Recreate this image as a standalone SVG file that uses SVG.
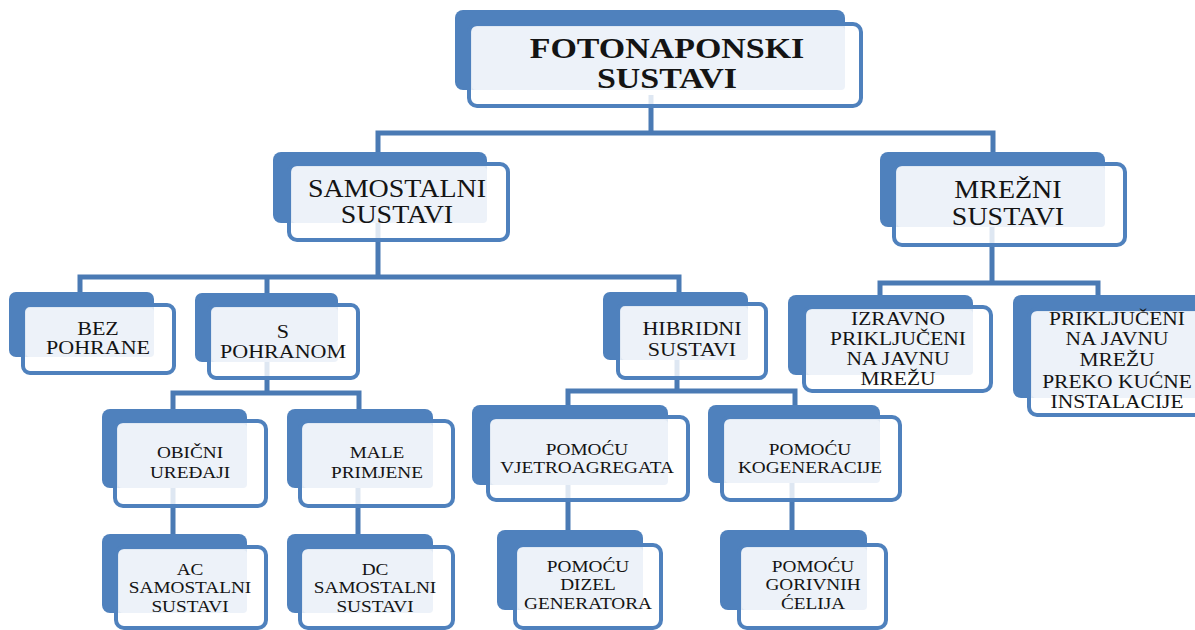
<svg xmlns="http://www.w3.org/2000/svg" width="1195" height="630" viewBox="0 0 1195 630">
<style>
.bk{fill:#4f81bd}
.fr{fill:#ffffff;fill-opacity:0.82;stroke:#4f81bd;stroke-width:4}
.lt{fill:#edf2f9}
.t{font-family:"Liberation Serif","Times New Roman",serif;fill:#141414;text-anchor:middle}
.s31{font-size:29px;font-weight:bold}
.s25{font-size:25px}
.s20{font-size:19px}
.s19{font-size:19px}
.s17{font-size:17.5px}
.con{fill:none;stroke:#4a7ab4;stroke-width:5}
</style>
<rect width="1195" height="630" fill="#ffffff"/>
<g id="connectors">
<path class="con" d="M378 152 V133 H993 V152 M651 95 V133"/>
<path class="con" d="M80 292 V277 H679 V292 M267 277 V293 M378 220 V277"/>
<path class="con" d="M880 295 V283 H1098 V295 M992 220 V283"/>
<path class="con" d="M173 409 V393 H359 V409 M267 355 V393"/>
<path class="con" d="M568 405 V391 H795 V405 M677 355 V391"/>
<path class="con" d="M173 480 V534 M358 480 V534 M568 480 V530 M792 480 V530"/>
</g>
<g id="n_top">
<rect class="bk" x="455" y="10" width="390" height="80" rx="8"/>
<rect class="fr" x="469" y="24" width="392" height="82" rx="8"/>
<rect class="lt" x="472" y="27" width="373" height="63" rx="4"/>
<text class="t s31" transform="translate(667 0) scale(1.17 1)"><tspan x="0" y="58">FOTONAPONSKI</tspan><tspan x="0" y="88">SUSTAVI</tspan></text>
</g>
<g id="n_samostalni">
<rect class="bk" x="273" y="152" width="214" height="71" rx="8"/>
<rect class="fr" x="289" y="164" width="219" height="76" rx="8"/>
<rect class="lt" x="292" y="167" width="195" height="56" rx="4"/>
<text class="t s25" transform="translate(397 0) scale(1.12 1)"><tspan x="0" y="197">SAMOSTALNI</tspan><tspan x="0" y="223">SUSTAVI</tspan></text>
</g>
<g id="n_mrezni">
<rect class="bk" x="880" y="152" width="225" height="75" rx="8"/>
<rect class="fr" x="894" y="164" width="231" height="81" rx="8"/>
<rect class="lt" x="897" y="167" width="208" height="60" rx="4"/>
<text class="t s25" transform="translate(1008 0) scale(1.12 1)"><tspan x="0" y="198">MREŽNI</tspan><tspan x="0" y="225">SUSTAVI</tspan></text>
</g>
<g id="n_bez">
<rect class="bk" x="9" y="292" width="145" height="65" rx="7"/>
<rect class="fr" x="23" y="305" width="151" height="68" rx="7"/>
<rect class="lt" x="26" y="308" width="128" height="49" rx="4"/>
<text class="t s20" transform="translate(98 0) scale(1.16 1)"><tspan x="0" y="335">BEZ</tspan><tspan x="0" y="354">POHRANE</tspan></text>
</g>
<g id="n_spohranom">
<rect class="bk" x="195" y="293" width="143" height="69" rx="7"/>
<rect class="fr" x="209" y="305" width="149" height="73" rx="7"/>
<rect class="lt" x="212" y="308" width="126" height="54" rx="4"/>
<text class="t s20" transform="translate(283 0) scale(1.16 1)"><tspan x="0" y="338">S</tspan><tspan x="0" y="358">POHRANOM</tspan></text>
</g>
<g id="n_hibridni">
<rect class="bk" x="603" y="292" width="145" height="68" rx="7"/>
<rect class="fr" x="618" y="304" width="148" height="74" rx="7"/>
<rect class="lt" x="621" y="307" width="127" height="53" rx="4"/>
<text class="t s20" transform="translate(692 0) scale(1.16 1)"><tspan x="0" y="335">HIBRIDNI</tspan><tspan x="0" y="356">SUSTAVI</tspan></text>
</g>
<g id="n_izravno">
<rect class="bk" x="788" y="295" width="185" height="80" rx="8"/>
<rect class="fr" x="804" y="307" width="187" height="84" rx="8"/>
<rect class="lt" x="807" y="310" width="166" height="65" rx="4"/>
<text class="t s19" transform="translate(898 0) scale(1.13 1)"><tspan x="0" y="325">IZRAVNO</tspan><tspan x="0" y="345">PRIKLJUČENI</tspan><tspan x="0" y="365">NA JAVNU</tspan><tspan x="0" y="385">MREŽU</tspan></text>
</g>
<g id="n_kucna">
<rect class="bk" x="1013" y="295" width="190" height="103" rx="8"/>
<rect class="fr" x="1029" y="309" width="190" height="106" rx="8"/>
<rect class="lt" x="1032" y="312" width="171" height="86" rx="4"/>
<text class="t s19" transform="translate(1117 0) scale(1.13 1)"><tspan x="0" y="325">PRIKLJUČENI</tspan><tspan x="0" y="345">NA JAVNU</tspan><tspan x="0" y="366">MREŽU</tspan><tspan x="0" y="388">PREKO KUĆNE</tspan><tspan x="0" y="408">INSTALACIJE</tspan></text>
</g>
<g id="n_obicni">
<rect class="bk" x="102" y="409" width="145" height="79" rx="8"/>
<rect class="fr" x="115" y="421" width="151" height="85" rx="8"/>
<rect class="lt" x="118" y="424" width="129" height="64" rx="4"/>
<text class="t s17" transform="translate(190 0) scale(1.1 1)"><tspan x="0" y="458">OBIČNI</tspan><tspan x="0" y="478">UREĐAJI</tspan></text>
</g>
<g id="n_male">
<rect class="bk" x="287" y="409" width="146" height="79" rx="8"/>
<rect class="fr" x="300" y="421" width="153" height="85" rx="8"/>
<rect class="lt" x="303" y="424" width="130" height="64" rx="4"/>
<text class="t s17" transform="translate(377 0) scale(1.1 1)"><tspan x="0" y="458">MALE</tspan><tspan x="0" y="478">PRIMJENE</tspan></text>
</g>
<g id="n_ac">
<rect class="bk" x="102" y="534" width="145" height="79" rx="8"/>
<rect class="fr" x="116" y="547" width="150" height="81" rx="8"/>
<rect class="lt" x="119" y="550" width="128" height="63" rx="4"/>
<text class="t s17" transform="translate(190 0) scale(1.1 1)"><tspan x="0" y="575">AC</tspan><tspan x="0" y="593">SAMOSTALNI</tspan><tspan x="0" y="612">SUSTAVI</tspan></text>
</g>
<g id="n_dc">
<rect class="bk" x="287" y="534" width="146" height="79" rx="8"/>
<rect class="fr" x="300" y="547" width="153" height="81" rx="8"/>
<rect class="lt" x="303" y="550" width="130" height="63" rx="4"/>
<text class="t s17" transform="translate(375 0) scale(1.1 1)"><tspan x="0" y="575">DC</tspan><tspan x="0" y="593">SAMOSTALNI</tspan><tspan x="0" y="612">SUSTAVI</tspan></text>
</g>
<g id="n_vjetro">
<rect class="bk" x="472" y="405" width="196" height="80" rx="8"/>
<rect class="fr" x="488" y="417" width="200" height="83" rx="8"/>
<rect class="lt" x="491" y="420" width="177" height="65" rx="4"/>
<text class="t s17" transform="translate(587 0) scale(1.1 1)"><tspan x="0" y="455">POMOĆU</tspan><tspan x="0" y="473">VJETROAGREGATA</tspan></text>
</g>
<g id="n_kogen">
<rect class="bk" x="708" y="405" width="172" height="78" rx="8"/>
<rect class="fr" x="722" y="417" width="178" height="83" rx="8"/>
<rect class="lt" x="725" y="420" width="155" height="63" rx="4"/>
<text class="t s17" transform="translate(810 0) scale(1.1 1)"><tspan x="0" y="455">POMOĆU</tspan><tspan x="0" y="473">KOGENERACIJE</tspan></text>
</g>
<g id="n_dizel">
<rect class="bk" x="497" y="530" width="146" height="80" rx="8"/>
<rect class="fr" x="515" y="545" width="146" height="83" rx="8"/>
<rect class="lt" x="518" y="548" width="125" height="62" rx="4"/>
<text class="t s17" transform="translate(588 0) scale(1.1 1)"><tspan x="0" y="572">POMOĆU</tspan><tspan x="0" y="590">DIZEL</tspan><tspan x="0" y="609">GENERATORA</tspan></text>
</g>
<g id="n_gorivnih">
<rect class="bk" x="720" y="530" width="147" height="80" rx="8"/>
<rect class="fr" x="739" y="545" width="147" height="83" rx="8"/>
<rect class="lt" x="742" y="548" width="125" height="62" rx="4"/>
<text class="t s17" transform="translate(813 0) scale(1.1 1)"><tspan x="0" y="572">POMOĆU</tspan><tspan x="0" y="590">GORIVNIH</tspan><tspan x="0" y="609">ĆELIJA</tspan></text>
</g>
</svg>
